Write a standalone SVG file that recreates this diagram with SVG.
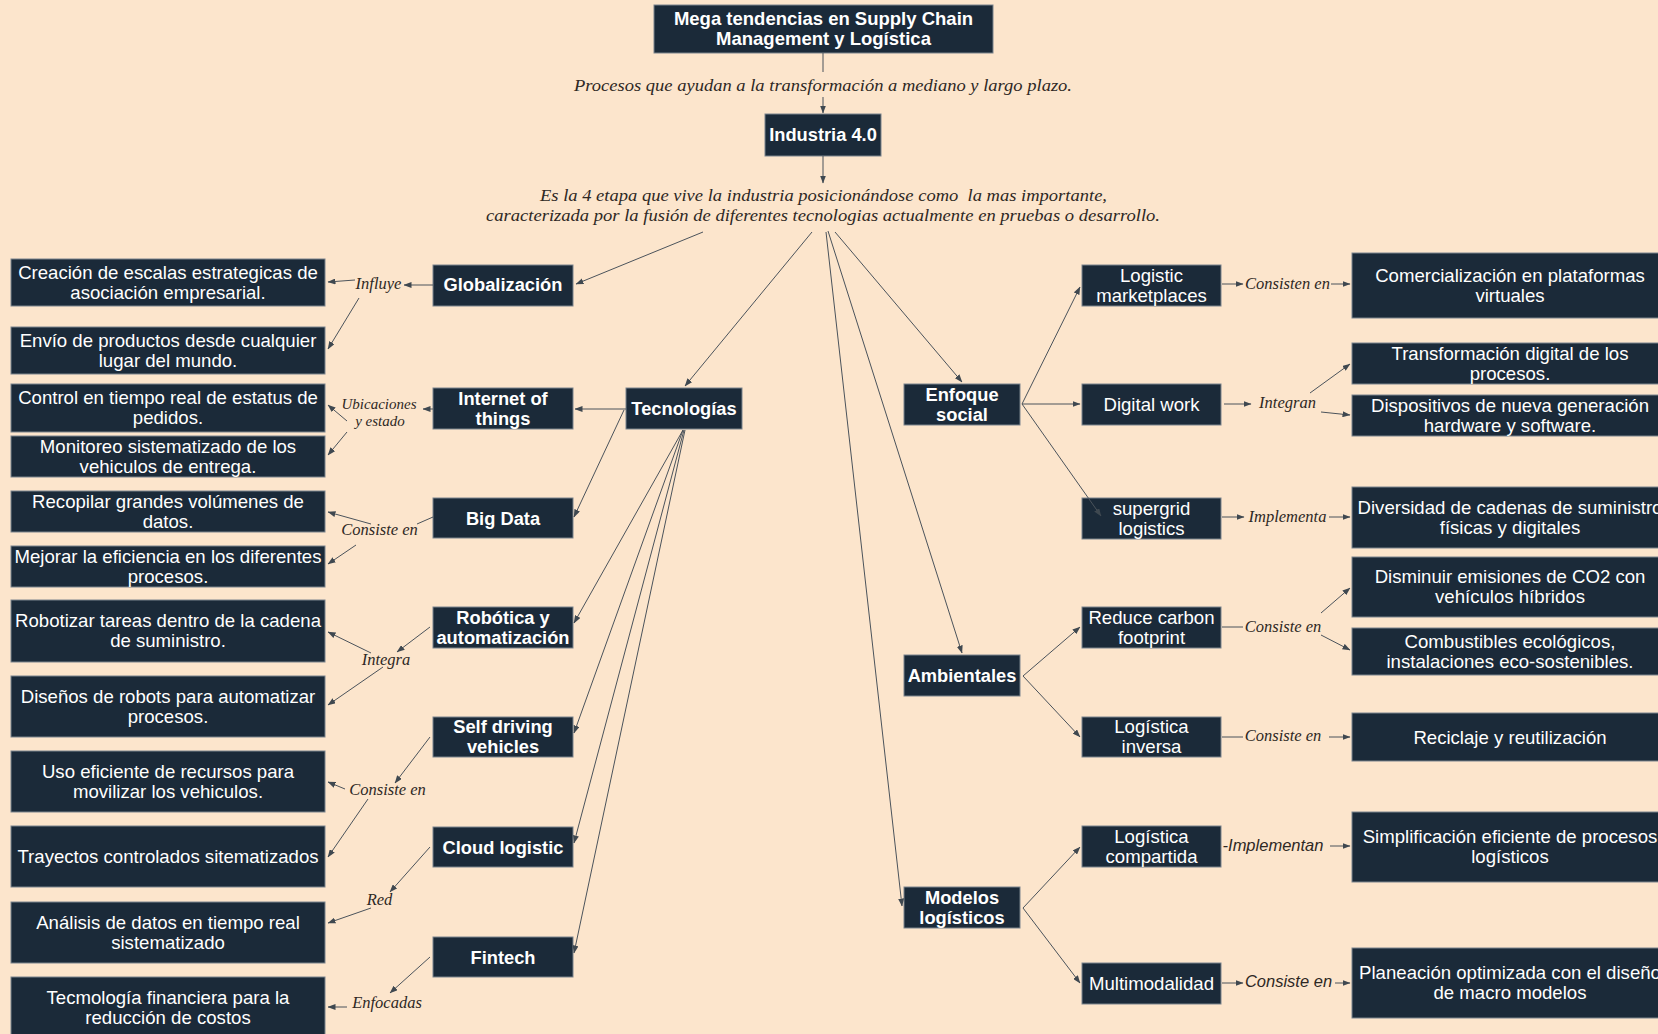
<svg xmlns="http://www.w3.org/2000/svg" width="1658" height="1034" viewBox="0 0 1658 1034">
  <defs>
    <marker id="ah" markerUnits="userSpaceOnUse" markerWidth="8" markerHeight="6" refX="7.5" refY="3" orient="auto">
      <path d="M0,0 L8,3 L0,6 z" fill="#3f4850"/>
    </marker>
    <style>
      .box { fill: #1b2a39; stroke: #7a848d; stroke-width: 1; }
      .t { font-family: "Liberation Sans", Arial, sans-serif; font-size: 18.6px; fill: #ffffff; text-anchor: middle; }
      .b { font-weight: bold; font-size: 18.3px; }
      .lbl { font-family: "Liberation Serif", "Times New Roman", serif; font-style: italic; font-size: 16.5px; fill: #2e2824; text-anchor: middle; }
      .lbs { font-family: "Liberation Sans", Arial, sans-serif; font-style: italic; font-size: 16.5px; fill: #2e2824; text-anchor: middle; }
      .desc { font-family: "Liberation Serif", "Times New Roman", serif; font-style: italic; font-size: 17.5px; fill: #2e2824; text-anchor: middle; white-space: pre; }
      .c { stroke: #4b535b; stroke-width: 1; fill: none; }
      .a { marker-end: url(#ah); }
    </style>
  </defs>

  <rect x="0" y="0" width="1658" height="1034" fill="#fce5cc"/>

  <!-- central column -->
  <g id="n-title">
    <rect class="box" x="654" y="5" width="339" height="48"/>
    <text class="t b" style="font-size:18.5px" x="823.5" y="25">Mega tendencias en Supply Chain</text>
    <text class="t b" style="font-size:18.5px" x="823.5" y="45">Management y Logística</text>
  </g>
  <g id="n-procesos">
    <text class="desc" x="823" y="91" textLength="498" lengthAdjust="spacingAndGlyphs">Procesos que ayudan a la transformación a mediano y largo plazo.</text>
  </g>
  <g id="n-industria">
    <rect class="box" x="765" y="114" width="116" height="42"/>
    <text class="t b" x="823" y="140.5">Industria 4.0</text>
  </g>
  <g id="n-etapa">
    <text class="desc" x="823.5" y="200.5" textLength="567" lengthAdjust="spacingAndGlyphs">Es la 4 etapa que vive la industria posicionándose como  la mas importante,</text>
    <text class="desc" x="823" y="221" textLength="674" lengthAdjust="spacingAndGlyphs">caracterizada por la fusión de diferentes tecnologias actualmente en pruebas o desarrollo.</text>
  </g>

  <!-- left branch: categories -->
  <g id="n-globalizacion">
    <rect class="box" x="433" y="265" width="140" height="41"/>
    <text class="t b" x="503" y="291">Globalización</text>
  </g>
  <g id="n-tecnologias">
    <rect class="box" x="626" y="388" width="116" height="41"/>
    <text class="t b" x="684" y="415">Tecnologías</text>
  </g>
  <g id="n-iot">
    <rect class="box" x="433" y="388" width="140" height="41"/>
    <text class="t b" x="503" y="404.5">Internet of</text>
    <text class="t b" x="503" y="424.5">things</text>
  </g>
  <g id="n-bigdata">
    <rect class="box" x="433" y="498" width="140" height="40"/>
    <text class="t b" x="503" y="524.5">Big Data</text>
  </g>
  <g id="n-robotica">
    <rect class="box" x="433" y="607" width="140" height="41"/>
    <text class="t b" x="503" y="623.5">Robótica y</text>
    <text class="t b" x="503" y="643.5">automatización</text>
  </g>
  <g id="n-selfdriving">
    <rect class="box" x="433" y="717" width="140" height="40"/>
    <text class="t b" x="503" y="733">Self driving</text>
    <text class="t b" x="503" y="753">vehicles</text>
  </g>
  <g id="n-cloud">
    <rect class="box" x="433" y="827" width="140" height="40"/>
    <text class="t b" x="503" y="853.5">Cloud logistic</text>
  </g>
  <g id="n-fintech">
    <rect class="box" x="433" y="937" width="140" height="40"/>
    <text class="t b" x="503" y="963.5">Fintech</text>
  </g>

  <!-- left branch: details -->
  <g id="n-l1">
    <rect class="box" x="11" y="259" width="314" height="47"/>
    <text class="t" x="168" y="278.5">Creación de escalas estrategicas de</text>
    <text class="t" x="168" y="298.5">asociación empresarial.</text>
  </g>
  <g id="n-l2">
    <rect class="box" x="11" y="327" width="314" height="47"/>
    <text class="t" x="168" y="346.5">Envío de productos desde cualquier</text>
    <text class="t" x="168" y="366.5">lugar del mundo.</text>
  </g>
  <g id="n-l3">
    <rect class="box" x="11" y="384" width="314" height="48"/>
    <text class="t" x="168" y="404">Control en tiempo real de estatus de</text>
    <text class="t" x="168" y="424">pedidos.</text>
  </g>
  <g id="n-l4">
    <rect class="box" x="11" y="436" width="314" height="41"/>
    <text class="t" x="168" y="452.5">Monitoreo sistematizado de los</text>
    <text class="t" x="168" y="472.5">vehiculos de entrega.</text>
  </g>
  <g id="n-l5">
    <rect class="box" x="11" y="491" width="314" height="41"/>
    <text class="t" x="168" y="507.5">Recopilar grandes volúmenes de</text>
    <text class="t" x="168" y="527.5">datos.</text>
  </g>
  <g id="n-l6">
    <rect class="box" x="11" y="546" width="314" height="41"/>
    <text class="t" x="168" y="562.5">Mejorar la eficiencia en los diferentes</text>
    <text class="t" x="168" y="582.5">procesos.</text>
  </g>
  <g id="n-l7">
    <rect class="box" x="11" y="600" width="314" height="62"/>
    <text class="t" x="168" y="627">Robotizar tareas dentro de la cadena</text>
    <text class="t" x="168" y="647">de suministro.</text>
  </g>
  <g id="n-l8">
    <rect class="box" x="11" y="676" width="314" height="61"/>
    <text class="t" x="168" y="702.5">Diseños de robots para automatizar</text>
    <text class="t" x="168" y="722.5">procesos.</text>
  </g>
  <g id="n-l9">
    <rect class="box" x="11" y="751" width="314" height="61"/>
    <text class="t" x="168" y="777.5">Uso eficiente de recursos para</text>
    <text class="t" x="168" y="797.5">movilizar los vehiculos.</text>
  </g>
  <g id="n-l10">
    <rect class="box" x="11" y="826" width="314" height="61"/>
    <text class="t" x="168" y="863">Trayectos controlados sitematizados</text>
  </g>
  <g id="n-l11">
    <rect class="box" x="11" y="902" width="314" height="61"/>
    <text class="t" x="168" y="928.5">Análisis de datos en tiempo real</text>
    <text class="t" x="168" y="948.5">sistematizado</text>
  </g>
  <g id="n-l12">
    <rect class="box" x="11" y="977" width="314" height="65"/>
    <text class="t" x="168" y="1004">Tecmología financiera para la</text>
    <text class="t" x="168" y="1024">reducción de costos</text>
  </g>

  <!-- left branch: relation labels -->
  <g id="n-influye"><text class="lbl" x="378.5" y="289">Influye</text></g>
  <g id="n-ubicaciones">
    <text class="lbl" style="font-size:15px" x="379" y="409">Ubicaciones</text>
    <text class="lbl" style="font-size:15px" x="380" y="425.5">y estado</text>
  </g>
  <g id="n-consiste-bd"><text class="lbl" x="379.5" y="535">Consiste en</text></g>
  <g id="n-integra"><text class="lbl" x="386" y="665">Integra</text></g>
  <g id="n-consiste-sd"><text class="lbl" x="387.5" y="795">Consiste en</text></g>
  <g id="n-red"><text class="lbl" x="379.5" y="905">Red</text></g>
  <g id="n-enfocadas"><text class="lbl" x="387" y="1008">Enfocadas</text></g>

  <!-- right branch: categories -->
  <g id="n-enfoque">
    <rect class="box" x="904" y="384" width="116" height="41"/>
    <text class="t b" x="962" y="400.5">Enfoque</text>
    <text class="t b" x="962" y="420.5">social</text>
  </g>
  <g id="n-ambientales">
    <rect class="box" x="904" y="655" width="116" height="41"/>
    <text class="t b" x="962" y="682">Ambientales</text>
  </g>
  <g id="n-modelos">
    <rect class="box" x="904" y="887" width="116" height="41"/>
    <text class="t b" x="962" y="903.5">Modelos</text>
    <text class="t b" x="962" y="923.5">logísticos</text>
  </g>

  <!-- right branch: sub-topics -->
  <g id="n-marketplaces">
    <rect class="box" x="1082" y="265" width="139" height="41"/>
    <text class="t" x="1151.5" y="281.5">Logistic</text>
    <text class="t" x="1151.5" y="301.5">marketplaces</text>
  </g>
  <g id="n-digitalwork">
    <rect class="box" x="1082" y="384" width="139" height="41"/>
    <text class="t" x="1151.5" y="411">Digital work</text>
  </g>
  <g id="n-supergrid">
    <rect class="box" x="1082" y="498" width="139" height="41"/>
    <text class="t" x="1151.5" y="514.5">supergrid</text>
    <text class="t" x="1151.5" y="534.5">logistics</text>
  </g>
  <g id="n-carbon">
    <rect class="box" x="1082" y="607" width="139" height="41"/>
    <text class="t" x="1151.5" y="623.5">Reduce carbon</text>
    <text class="t" x="1151.5" y="643.5">footprint</text>
  </g>
  <g id="n-inversa">
    <rect class="box" x="1082" y="717" width="139" height="40"/>
    <text class="t" x="1151.5" y="733">Logística</text>
    <text class="t" x="1151.5" y="753">inversa</text>
  </g>
  <g id="n-compartida">
    <rect class="box" x="1082" y="826" width="139" height="41"/>
    <text class="t" x="1151.5" y="842.5">Logística</text>
    <text class="t" x="1151.5" y="862.5">compartida</text>
  </g>
  <g id="n-multimodal">
    <rect class="box" x="1082" y="963" width="139" height="41"/>
    <text class="t" x="1151.5" y="990">Multimodalidad</text>
  </g>

  <!-- right branch: details -->
  <g id="n-r1">
    <rect class="box" x="1352" y="253" width="320" height="65"/>
    <text class="t" x="1510" y="281.5">Comercialización en plataformas</text>
    <text class="t" x="1510" y="301.5">virtuales</text>
  </g>
  <g id="n-r2">
    <rect class="box" x="1352" y="343" width="320" height="41"/>
    <text class="t" x="1510" y="359.5">Transformación digital de los</text>
    <text class="t" x="1510" y="379.5">procesos.</text>
  </g>
  <g id="n-r3">
    <rect class="box" x="1352" y="395" width="320" height="41"/>
    <text class="t" x="1510" y="411.5">Dispositivos de nueva generación</text>
    <text class="t" x="1510" y="431.5">hardware y software.</text>
  </g>
  <g id="n-r4">
    <rect class="box" x="1352" y="487" width="320" height="61"/>
    <text class="t" x="1510" y="513.5">Diversidad de cadenas de suministro</text>
    <text class="t" x="1510" y="533.5">físicas y digitales</text>
  </g>
  <g id="n-r5">
    <rect class="box" x="1352" y="557" width="320" height="60"/>
    <text class="t" x="1510" y="583">Disminuir emisiones de CO2 con</text>
    <text class="t" x="1510" y="603">vehículos híbridos</text>
  </g>
  <g id="n-r6">
    <rect class="box" x="1352" y="628" width="320" height="47"/>
    <text class="t" x="1510" y="647.5">Combustibles ecológicos,</text>
    <text class="t" x="1510" y="667.5">instalaciones eco-sostenibles.</text>
  </g>
  <g id="n-r7">
    <rect class="box" x="1352" y="713" width="320" height="48"/>
    <text class="t" x="1510" y="743.5">Reciclaje y reutilización</text>
  </g>
  <g id="n-r8">
    <rect class="box" x="1352" y="812" width="320" height="70"/>
    <text class="t" x="1510" y="843">Simplificación eficiente de procesos</text>
    <text class="t" x="1510" y="863">logísticos</text>
  </g>
  <g id="n-r9">
    <rect class="box" x="1352" y="948" width="320" height="70"/>
    <text class="t" x="1510" y="979">Planeación optimizada con el diseño</text>
    <text class="t" x="1510" y="999">de macro modelos</text>
  </g>

  <!-- right branch: relation labels -->
  <g id="n-consisten-mp"><text class="lbl" x="1287.5" y="289">Consisten en</text></g>
  <g id="n-integran"><text class="lbl" x="1287.5" y="408">Integran</text></g>
  <g id="n-implementa"><text class="lbl" x="1287.5" y="522">Implementa</text></g>
  <g id="n-consiste-cf"><text class="lbl" x="1283" y="632">Consiste en</text></g>
  <g id="n-consiste-li"><text class="lbl" x="1283" y="741">Consiste en</text></g>
  <g id="n-implementan"><text class="lbs" x="1273" y="851">-Implementan</text></g>
  <g id="n-consiste-mm"><text class="lbs" x="1288.5" y="987">Consiste en</text></g>

  <!-- connectors -->
  <g id="connectors">
    <line class="c" x1="823" y1="53" x2="823" y2="72"/>
    <line class="c a" x1="823" y1="97" x2="823" y2="113"/>
    <line class="c a" x1="823" y1="156" x2="823" y2="183"/>

    <line class="c a" x1="703" y1="232" x2="576" y2="284"/>
    <line class="c a" x1="812" y1="232" x2="685" y2="386"/>
    <line class="c a" x1="835" y1="232" x2="962" y2="382"/>
    <line class="c a" x1="828" y1="231" x2="962" y2="653"/>
    <line class="c a" x1="826" y1="232" x2="902" y2="906"/>

    <line class="c a" x1="433" y1="285" x2="404" y2="285"/>
    <line class="c a" x1="355" y1="280" x2="328" y2="282"/>
    <line class="c a" x1="359" y1="298" x2="328" y2="349"/>

    <line class="c a" x1="626" y1="409" x2="575" y2="409"/>
    <line class="c a" x1="624" y1="410" x2="574" y2="517"/>
    <line class="c a" x1="433" y1="409" x2="423" y2="409"/>
    <line class="c a" x1="347" y1="421" x2="328" y2="405"/>
    <line class="c a" x1="347" y1="432" x2="328" y2="455"/>

    <line class="c" x1="433" y1="517" x2="417" y2="524"/>
    <line class="c a" x1="371" y1="524" x2="328" y2="512"/>
    <line class="c a" x1="356" y1="545" x2="328" y2="564"/>

    <line class="c a" x1="683" y1="430" x2="574" y2="623"/>
    <line class="c a" x1="683" y1="430" x2="574" y2="733"/>
    <line class="c a" x1="684" y1="430" x2="574" y2="843"/>
    <line class="c a" x1="685" y1="430" x2="574" y2="953"/>

    <line class="c a" x1="430" y1="627" x2="397" y2="652"/>
    <line class="c a" x1="371" y1="653" x2="328" y2="632"/>
    <line class="c a" x1="383" y1="667" x2="328" y2="705"/>

    <line class="c a" x1="430" y1="737" x2="395" y2="783"/>
    <line class="c a" x1="345" y1="789" x2="328" y2="782"/>
    <line class="c a" x1="368" y1="799" x2="328" y2="857"/>

    <line class="c a" x1="430" y1="847" x2="390" y2="892"/>
    <line class="c a" x1="371" y1="908" x2="328" y2="923"/>

    <line class="c a" x1="430" y1="957" x2="390" y2="993"/>
    <line class="c a" x1="347" y1="1007" x2="328" y2="1007"/>

    <line class="c a" x1="1022" y1="404" x2="1080" y2="287"/>
    <line class="c a" x1="1022" y1="404" x2="1080" y2="404"/>
    <line class="c a" x1="1022" y1="404" x2="1101" y2="516"/>

    <line class="c a" x1="1222" y1="284" x2="1243" y2="284"/>
    <line class="c a" x1="1331" y1="284" x2="1350" y2="284"/>
    <line class="c a" x1="1224" y1="404" x2="1251" y2="404"/>
    <line class="c a" x1="1310" y1="393" x2="1350" y2="364"/>
    <line class="c a" x1="1321" y1="412" x2="1350" y2="415"/>
    <line class="c a" x1="1222" y1="517" x2="1244" y2="517"/>
    <line class="c a" x1="1329" y1="517" x2="1350" y2="517"/>

    <line class="c a" x1="1023" y1="676" x2="1080" y2="627"/>
    <line class="c a" x1="1023" y1="676" x2="1080" y2="737"/>
    <line class="c" x1="1222" y1="627" x2="1243" y2="627"/>
    <line class="c a" x1="1321" y1="613" x2="1350" y2="588"/>
    <line class="c a" x1="1321" y1="635" x2="1350" y2="650"/>
    <line class="c" x1="1222" y1="737" x2="1243" y2="737"/>
    <line class="c a" x1="1329" y1="737" x2="1350" y2="737"/>

    <line class="c a" x1="1023" y1="908" x2="1080" y2="847"/>
    <line class="c a" x1="1023" y1="908" x2="1080" y2="983"/>
    <line class="c a" x1="1330" y1="846" x2="1350" y2="846"/>
    <line class="c a" x1="1222" y1="983" x2="1243" y2="983"/>
    <line class="c a" x1="1335" y1="983" x2="1350" y2="983"/>
  </g>
</svg>
